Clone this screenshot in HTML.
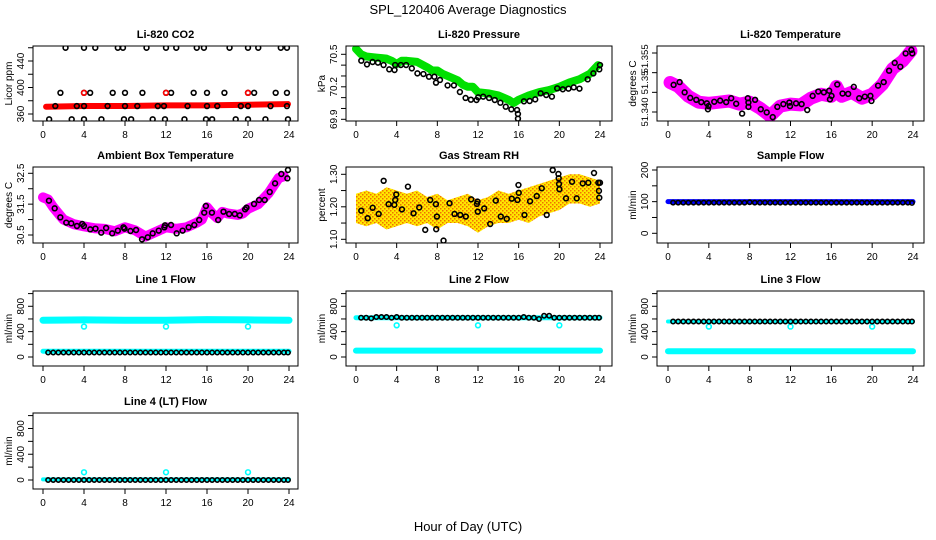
<!DOCTYPE html>
<html><head><meta charset="utf-8"><style>
body{margin:0;background:#fff;}
svg{display:block;font-family:"Liberation Sans",sans-serif;}
</style></head><body>
<svg id="c" width="936" height="540" viewBox="0 0 936 540" xmlns="http://www.w3.org/2000/svg">
<defs>
<pattern id="rhpat" width="4" height="4" patternUnits="userSpaceOnUse"><rect width="4" height="4" fill="#ffe800"/><rect width="1.5" height="1.5" fill="#f07000"/><rect x="2" y="2" width="1.5" height="1.5" fill="#f07000"/></pattern>
</defs>
<text x="468" y="14" text-anchor="middle" font-size="13">SPL_120406  Average Diagnostics</text>
<text x="468" y="531" text-anchor="middle" font-size="13">Hour of Day (UTC)</text>
</svg>
<script>
// ---- data ----
const co2RedT=[0.3,4,8,12,16,20,23.9];
const co2RedV=[371,372,372,373,373,374,375];
const co2T460=[2.2,4,5.1,7.3,7.8,10.1,12,13,15,15.7,18.2,20,21,23.2,23.8];
const co2T392=[1.7,4,4.6,6.8,8,9.7,12,12.5,14.7,16,17.7,20,20.6,22.7,23.8];
const co2T372=[1.2,3.3,4,6.3,8,9.2,11.2,11.8,14.1,16,17,19.3,20,22.2,23.8];
const co2T352=[0.6,2.8,4,5.7,7.9,8.6,10.7,11.9,13.8,15.9,16.5,18.8,20,21.7,23.9];

const presBandT=[0,0.5,1,2,3,3.5,4,4.5,5,6,7,7.5,8,8.5,9,10,10.5,11,11.5,12,13,14,15,15.5,16,17,18,19,20,21,22,23,23.8];
const presBandV=[70.55,70.5,70.48,70.47,70.46,70.44,70.41,70.44,70.44,70.43,70.38,70.35,70.35,70.32,70.3,70.26,70.22,70.2,70.2,70.15,70.14,70.12,70.08,70.05,70.08,70.12,70.15,70.17,70.2,70.24,70.27,70.32,70.4];
const presT=[0.52,1.08,1.63,2.16,2.71,3.27,3.79,3.85,4.41,4.93,5.49,6.04,6.63,7.18,7.71,7.87,8.26,9.01,9.63,10.22,10.78,11.30,11.85,12.02,12.51,13.09,13.65,14.20,14.73,15.28,15.84,15.93,15.93,16.52,17.08,17.63,18.16,18.71,19.27,19.79,20.34,20.90,21.42,21.98,22.79,23.35,23.93,24.0];
const presV=[70.441,70.407,70.429,70.423,70.401,70.361,70.355,70.401,70.401,70.401,70.370,70.324,70.318,70.293,70.293,70.238,70.263,70.213,70.213,70.152,70.097,70.081,70.078,70.103,70.109,70.097,70.078,70.053,70.016,69.992,69.986,69.949,69.906,70.066,70.069,70.084,70.140,70.124,70.109,70.186,70.177,70.183,70.195,70.183,70.269,70.324,70.361,70.401];

const tempBandT=[0.2,1,2,3,4,5,6,7,8,9,10,11,12,13,14,15,16,16.5,17,18,19,20,21,22,23,23.8];
const tempBandV=[51.3475,51.3465,51.344,51.3425,51.3422,51.3425,51.3428,51.342,51.3425,51.341,51.339,51.3415,51.342,51.3418,51.3435,51.3445,51.344,51.3465,51.344,51.345,51.3435,51.3445,51.347,51.351,51.353,51.3555];
const tempT=[0.55,1.14,1.63,2.18,2.77,3.26,3.81,3.91,3.97,4.53,5.11,5.70,6.19,6.68,7.26,7.82,7.88,7.88,8.53,9.09,9.67,10.26,10.71,11.30,11.89,11.95,12.54,13.09,13.64,14.17,14.72,15.27,15.79,15.86,16.02,16.58,17.10,17.65,18.20,18.73,19.28,19.83,19.93,20.58,21.13,21.66,22.21,22.76,23.28,23.84,23.93];
const tempV=[51.3469,51.3476,51.3450,51.3436,51.3431,51.3425,51.3422,51.3407,51.3415,51.3426,51.3429,51.3425,51.3435,51.3421,51.3396,51.3435,51.3424,51.3413,51.3431,51.3407,51.3399,51.3387,51.3413,51.3420,51.3424,51.3415,51.3422,51.3420,51.3405,51.3441,51.3452,51.3450,51.3454,51.3432,51.3441,51.3470,51.3447,51.3446,51.3464,51.3435,51.3439,51.3441,51.3428,51.3467,51.3476,51.3505,51.3525,51.3515,51.3549,51.3558,51.3549];

const ambBandT=[0,0.5,1,1.5,2,3,4,5,6,7,8,9,10,11,12,13,14,15,15.5,16,16.5,17,17.5,18,19,19.5,20,21,22,22.5,23,23.5];
const ambBandV=[31.72,31.65,31.4,31.2,31.0,30.85,30.78,30.72,30.7,30.62,30.75,30.65,30.45,30.6,30.75,30.7,30.75,30.9,31.0,31.4,31.2,31.05,31.25,31.2,31.15,31.2,31.35,31.5,31.85,32.1,32.35,32.4];
const ambT=[0.58,1.14,1.69,2.27,2.76,3.31,3.83,3.99,4.61,5.12,5.68,6.16,6.75,7.30,7.85,7.95,8.53,9.08,9.66,10.22,10.70,11.29,11.84,11.90,12.49,13.04,13.62,14.21,14.76,15.24,15.73,15.89,16.48,17.09,17.61,18.16,18.71,19.20,19.72,19.85,20.59,21.08,21.63,22.12,22.64,23.25,23.84,23.90];
const ambV=[31.613,31.364,31.073,30.900,30.878,30.792,30.857,30.792,30.684,30.706,30.576,30.727,30.554,30.641,30.749,30.706,30.630,30.662,30.360,30.425,30.554,30.641,30.749,30.813,30.824,30.554,30.641,30.749,30.824,30.986,31.224,31.440,31.224,30.986,31.256,31.181,31.181,31.137,31.332,31.386,31.505,31.635,31.635,31.894,32.175,32.477,32.337,32.607];

const rhLoT=[0,1,2,3,4,5,6,7,8,9,10,11,12,13,14,15,16,17,18,19,20,21,22,23,24];
const rhLoV=[1.15,1.14,1.15,1.13,1.14,1.15,1.14,1.15,1.13,1.15,1.15,1.14,1.12,1.14,1.15,1.15,1.16,1.15,1.17,1.18,1.19,1.21,1.21,1.20,1.21];
const rhHiV=[1.24,1.25,1.24,1.26,1.25,1.24,1.25,1.23,1.24,1.22,1.23,1.24,1.22,1.23,1.25,1.24,1.25,1.26,1.27,1.28,1.29,1.30,1.30,1.29,1.28];
const rhT=[0.52,1.15,1.64,2.23,2.72,3.21,3.77,3.86,3.96,4.52,5.11,5.66,6.22,6.81,7.30,7.86,7.89,7.96,8.61,9.20,9.69,10.25,10.80,11.33,11.89,11.95,11.98,12.61,13.20,13.75,14.24,14.83,15.32,15.88,15.98,16.01,16.57,17.12,17.78,18.27,18.76,19.35,19.91,19.94,19.97,20.01,20.66,21.25,21.71,22.30,22.85,23.41,23.84,23.90,23.93,24.0];
const rhV=[1.188,1.165,1.197,1.178,1.280,1.208,1.206,1.221,1.238,1.192,1.262,1.180,1.198,1.129,1.221,1.208,1.131,1.170,1.096,1.211,1.178,1.175,1.170,1.223,1.209,1.216,1.185,1.195,1.147,1.219,1.170,1.163,1.225,1.221,1.267,1.243,1.175,1.217,1.233,1.257,1.175,1.313,1.301,1.288,1.270,1.254,1.226,1.277,1.226,1.272,1.274,1.304,1.274,1.249,1.228,1.274];

const halfT=[0.5,1,1.5,2,2.5,3,3.5,4,4.5,5,5.5,6,6.5,7,7.5,8,8.5,9,9.5,10,10.5,11,11.5,12,12.5,13,13.5,14,14.5,15,15.5,16,16.5,17,17.5,18,18.5,19,19.5,20,20.5,21,21.5,22,22.5,23,23.5,23.9];
const sampleV=[97,97,97,97,97,97,97,97,97,97,97,97,97,97,97,98,97,97,97,97,97,97,97,97,97,97,97,97,97,97,97,97,97,97,97,97,97,97,97,97,97,97,97,97,97,97,97,96];
const sampleBandT=[0,24];
const sampleBandV=[100,100];

const line1V=[70,70,70,70,70,70,70,70,70,70,70,70,70,70,70,70,70,70,70,70,70,70,70,70,70,70,70,70,70,70,70,70,70,70,70,70,70,70,70,70,70,70,70,70,70,70,70,70];
const line1HiT=[0,4,8,12,16,20,24];
const line1HiV=[580,585,580,580,590,585,580];
const line1LoV=[90,90,90,90,90,90,90];
const line2V=[620,620,610,630,630,630,620,630,620,620,620,620,620,620,620,620,620,620,620,620,620,620,620,620,620,620,620,620,620,620,620,620,630,620,620,600,650,650,620,620,620,620,620,620,620,620,620,620];
const line2HiV=[620,620,620,620,620,620,620];
const line2LoV=[100,100,100,100,100,100,100];
const line3V=[560,560,560,560,560,560,560,560,560,560,560,560,560,560,560,560,560,560,560,560,560,560,560,560,560,560,560,560,560,560,560,560,560,560,560,560,560,560,560,560,560,560,560,560,560,560,560,560];
const line3LoV=[90,90,90,90,90,90,90];
const line4V=[0,0,0,0,0,0,0,0,0,0,0,0,0,0,0,0,0,0,0,0,0,0,0,0,0,0,0,0,0,0,0,0,0,0,0,0,0,0,0,0,0,0,0,0,0,0,0,0];
const outT=[4,12,20];
const out1V=[480,480,480];
const out2V=[500,500,500];
const out3V=[480,480,480];
const out4V=[120,120,120];
const xTicks=[0,4,8,12,16,20,24];

// ---- drawing ----
const NS="http://www.w3.org/2000/svg";
const svg=document.getElementById('c');
function mk(tag,attrs,parent){const e=document.createElementNS(NS,tag);for(const k in attrs)e.setAttribute(k,attrs[k]);(parent||svg).appendChild(e);return e;}
const cols=[{b:[33,298],t:[43,289]},{b:[346,612],t:[356,600]},{b:[657,924],t:[668,913]}];
const rows=[[46,121],[167,243],[291,366],[413,489]];

function panel(c,r,cfg){
  const col=cols[c],row=rows[r];
  const g=mk('g',{});
  
  
  const x=h=>col.t[0]+h/24*(col.t[1]-col.t[0]);
  const y=v=>cfg.p1+(v-cfg.v1)/(cfg.v2-cfg.v1)*(cfg.p2-cfg.p1);
  const t=mk('text',{x:(col.b[0]+col.b[1])/2,y:row[0]-8,'text-anchor':'middle','font-size':11,'font-weight':'bold'},g);
  t.textContent=cfg.title;
  
  
  const yl=mk('text',{transform:`translate(${col.b[0]-21},${(row[0]+row[1])/2}) rotate(-90)`,'text-anchor':'middle','font-size':10},g);
  yl.textContent=cfg.ylab;
  
  
  xTicks.forEach(h=>{
    mk('line',{x1:x(h),x2:x(h),y1:row[1],y2:row[1]+5,stroke:'#000'},g);
    const tx=mk('text',{x:x(h),y:row[1]+17,'text-anchor':'middle','font-size':10},g);
    tx.textContent=h;
    
    
  });
  cfg.yticks.forEach(v=>{mk('line',{x1:col.b[0]-5,x2:col.b[0],y1:y(v),y2:y(v),stroke:'#000'},g);});
  cfg.ylabels.forEach((s,i)=>{
    const tv=mk('text',{transform:`translate(${col.b[0]-9},${y(cfg.ylabelV[i])}) rotate(-90)`,'text-anchor':'middle','font-size':cfg.lfs||10},g);
    tv.textContent=s;
    
    
  });
  const clipId='clip'+c+r;
  const cp=mk('clipPath',{id:clipId},g);
  mk('rect',{x:col.b[0],y:row[0],width:col.b[1]-col.b[0],height:row[1]-row[0]},cp);
  const pg=mk('g',{'clip-path':`url(#${clipId})`},g);
  cfg.draw({x,y,g:pg});
  const bx=mk('rect',{x:col.b[0],y:row[0],width:col.b[1]-col.b[0],height:row[1]-row[0],fill:'none',stroke:'#000'},g);
  
  
}
function band(a,T,V,color,w,name){
  const p=mk('polyline',{points:T.map((t,i)=>a.x(t)+','+a.y(V[i])).join(' '),fill:'none',stroke:color,'stroke-width':w,'stroke-linecap':'round','stroke-linejoin':'round'},a.g);
  
  
}
function pts(a,T,V,color,name,r){
  T.forEach((t,i)=>{
    const e=mk('circle',{cx:a.x(t),cy:a.y(V[i]),r:r||2.4,fill:'none',stroke:color,'stroke-width':1.6},a.g);
    
    
  });
}
function flowCfg(name,title){return {name,title,ylab:'ml/min',v1:0,p1:0,v2:1000,p2:0,yticks:[0,200,400,600,800,1000],ylabels:['0','400','800'],ylabelV:[0,400,800]};}
function flowPanel(c,r,cfg){const row=rows[r];cfg.p1=row[1]-9;cfg.p2=row[0]+2.6;panel(c,r,cfg);}

panel(0,0,{name:'co2-panel',title:'Li-820 CO2',ylab:'Licor ppm',v1:360,p1:114,v2:440,p2:61,yticks:[360,380,400,420,440,460],ylabels:['360','400','440'],ylabelV:[360,400,440],
 draw:a=>{band(a,co2RedT,co2RedV,'#f00',6,'co2-red-series');
  pts(a,co2T460,co2T460.map(()=>460),'#000','co2-point');
  pts(a,co2T392,co2T392.map(()=>392),'#000','co2-point');
  pts(a,outT,[392,392,392],'#f00','co2-red-point');
  pts(a,co2T372,co2T372.map(()=>372),'#000','co2-point');
  pts(a,co2T352,co2T352.map(()=>352),'#000','co2-point');}});
panel(1,0,{name:'pressure-panel',title:'Li-820 Pressure',ylab:'kPa',v1:70.5,p1:54.3,v2:69.9,p2:119.3,yticks:[69.9,70.0,70.1,70.2,70.3,70.4,70.5],ylabels:['69.9','70.2','70.5'],ylabelV:[69.9,70.2,70.5],
 draw:a=>{band(a,presBandT,presBandV,'#00e000',8,'pressure-green-series');pts(a,presT,presV,'#000','pressure-point');}});
panel(2,0,{name:'temperature-panel',title:'Li-820 Temperature',ylab:'degrees C',v1:51.355,p1:53,v2:51.340,p2:112,lfs:9.5,yticks:[51.340,51.345,51.350,51.355],ylabels:['51.340','51.35','51.355'],ylabelV:[51.340,51.3475,51.3535],
 draw:a=>{band(a,tempBandT,tempBandV,'#f0f',13,'temperature-magenta-series');pts(a,tempT,tempV,'#000','temperature-point');}});
panel(0,1,{name:'ambient-panel',title:'Ambient Box Temperature',ylab:'degrees C',v1:32.5,p1:173.3,v2:30.5,p2:235,yticks:[30.5,31,31.5,32,32.5],ylabels:['30.5','31.5','32.5'],ylabelV:[30.5,31.5,32.5],
 draw:a=>{band(a,ambBandT,ambBandV,'#f0f',10,'ambient-magenta-series');pts(a,ambT,ambV,'#000','ambient-point');}});
panel(1,1,{name:'rh-panel',title:'Gas Stream RH',ylab:'percent',v1:1.30,p1:174.3,v2:1.10,p2:239.3,yticks:[1.10,1.15,1.20,1.25,1.30],ylabels:['1.10','1.20','1.30'],ylabelV:[1.10,1.20,1.30],
 draw:a=>{const up=rhLoT.map((t,i)=>a.x(t)+','+a.y(rhHiV[i]));const dn=rhLoT.map((t,i)=>a.x(t)+','+a.y(rhLoV[i])).reverse();
  const p=mk('polygon',{points:up.concat(dn).join(' '),fill:'url(#rhpat)'},a.g);
  
  
  pts(a,rhT,rhV,'#000','rh-point');}});
panel(2,1,{name:'sample-flow-panel',title:'Sample Flow',ylab:'ml/min',v1:0,p1:233.3,v2:200,p2:170,yticks:[0,50,100,150,200],ylabels:['0','100','200'],ylabelV:[0,100,200],
 draw:a=>{band(a,sampleBandT,sampleBandV,'#00f',5,'sample-blue-series');pts(a,halfT,sampleV,'#000','sample-point',2.2);}});
const f1=flowCfg('line1-flow-panel','Line 1 Flow');
f1.draw=a=>{band(a,line1HiT,line1HiV,'#0ff',7,'line1-cyan-high');band(a,line1HiT,line1LoV,'#0ff',5,'line1-cyan-low');pts(a,outT,out1V,'#0ff','line1-outlier');pts(a,halfT,line1V,'#000','line1-point',2.2);};
flowPanel(0,2,f1);
const f2=flowCfg('line2-flow-panel','Line 2 Flow');
f2.draw=a=>{band(a,line1HiT,line2HiV,'#0ff',5,'line2-cyan-high');band(a,line1HiT,line2LoV,'#0ff',6,'line2-cyan-low');pts(a,outT,out2V,'#0ff','line2-outlier');pts(a,halfT,line2V,'#000','line2-point',2.2);};
flowPanel(1,2,f2);
const f3=flowCfg('line3-flow-panel','Line 3 Flow');
f3.draw=a=>{band(a,line1HiT,line3V.slice(0,7),'#0ff',4,'line3-cyan-high');band(a,line1HiT,line3LoV,'#0ff',6,'line3-cyan-low');pts(a,outT,out3V,'#0ff','line3-outlier');pts(a,halfT,line3V,'#000','line3-point',2.2);};
flowPanel(2,2,f3);
const f4=flowCfg('line4-flow-panel','Line 4 (LT) Flow');
f4.draw=a=>{band(a,line1HiT,[10,10,10,10,10,10,10],'#0ff',4,'line4-cyan-series');pts(a,outT,out4V,'#0ff','line4-outlier');pts(a,halfT,line4V,'#000','line4-point',2.2);};
flowPanel(0,3,f4);
</script>
</body></html>
